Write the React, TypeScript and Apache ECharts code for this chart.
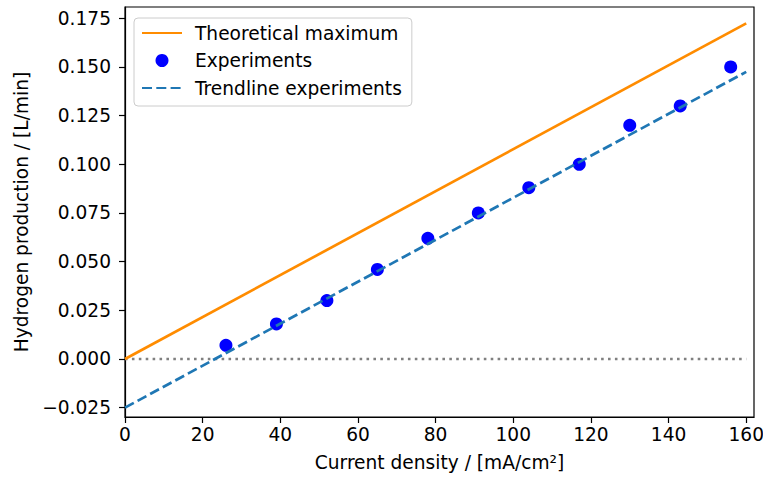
import React, { useEffect, useRef } from "react";
import * as echarts from "echarts";

const xExperiments = [26, 39, 52, 65, 78, 91, 104, 117, 130, 143, 156];
const yExperiments = [0.007, 0.018, 0.030, 0.046, 0.062, 0.075, 0.088, 0.100, 0.120, 0.130, 0.150];

const xTheoretical = [0, 160];
const yTheoretical = [0, 0.1724];

const xTrend = [0, 160];
const yTrend = [-0.025, 0.1475];

const xZero = [0, 160];
const yZero = [0, 0];

const xTicks = [0, 20, 40, 60, 80, 100, 120, 140, 160];
const yTicks = [-0.025, 0, 0.025, 0.05, 0.075, 0.1, 0.125, 0.15, 0.175];

const seriesNames = ["Theoretical maximum", "Experiments", "Trendline experiments"];

const FONT = "DejaVu Sans";
const FS = 18.6;

const zip = (xs: number[], ys: number[]) => xs.map((x, i) => [x, ys[i]]);

export default function App() {
  const ref = useRef<HTMLDivElement>(null);

  useEffect(() => {
    if (!ref.current) return;
    const chart = echarts.init(ref.current, undefined, { renderer: "svg" });
    const fmtY = (v: number) => (v < 0 ? "\u2212" + Math.abs(v).toFixed(3) : v.toFixed(3));
    chart.setOption({
      animation: false,
      grid: {
        left: 125,
        right: 9,
        top: 7,
        bottom: 63,
        containLabel: false,
        outerBoundsMode: "none",
        show: true,
        borderColor: "#000",
        borderWidth: 1.2,
        backgroundColor: "#fff",
      },
      legend: {
        orient: "vertical",
        left: 134,
        top: 18,
        padding: [5, 10, 8, 7],
        itemWidth: 40,
        itemHeight: 13,
        itemGap: 7.5,
        borderColor: "#cccccc",
        borderWidth: 1,
        borderRadius: 4,
        backgroundColor: "rgba(255,255,255,0.8)",
        textStyle: { fontSize: FS, fontFamily: FONT, color: "#000", lineHeight: 20, padding: [0, 0, 0, 8] },
        data: [
          { name: seriesNames[0], itemStyle: { opacity: 0 } },
          { name: seriesNames[1] },
          { name: seriesNames[2], itemStyle: { opacity: 0 } },
        ],
      },
      xAxis: {
        type: "value",
        min: 0,
        max: 162,
        name: "Current density / [mA/cm\u00B2]",
        nameLocation: "middle",
        nameGap: 36,
        nameTextStyle: { fontSize: FS, fontFamily: FONT, color: "#000" },
        axisLine: { show: true, onZero: false, lineStyle: { color: "#000", width: 1.2 } },
        axisTick: { show: true, inside: false, length: 6, lineStyle: { color: "#000", width: 1.2 }, customValues: xTicks },
        axisLabel: { fontSize: FS, fontFamily: FONT, color: "#000", margin: 8, customValues: xTicks },
        splitLine: { show: false },
      },
      yAxis: {
        type: "value",
        min: -0.0298,
        max: 0.1808,
        name: "Hydrogen production / [L/min]",
        nameLocation: "middle",
        nameGap: 87,
        nameTextStyle: { fontSize: FS, fontFamily: FONT, color: "#000" },
        axisLine: { show: true, onZero: false, lineStyle: { color: "#000", width: 1.2 } },
        axisTick: { show: true, inside: false, length: 6, lineStyle: { color: "#000", width: 1.2 }, customValues: yTicks },
        axisLabel: { fontSize: FS, fontFamily: FONT, color: "#000", margin: 14, customValues: yTicks, formatter: fmtY },
        splitLine: { show: false },
      },
      series: [
        {
          name: "Zero",
          type: "line",
          data: zip(xZero, yZero),
          symbol: "none",
          silent: true,
          lineStyle: { color: "#808080", width: 2.6, type: [2.6, 4.3], cap: "butt" },
        },
        {
          name: seriesNames[0],
          type: "line",
          data: zip(xTheoretical, yTheoretical),
          symbol: "none",
          silent: true,
          lineStyle: { color: "#ff8c00", width: 2.7 },
          itemStyle: { color: "#ff8c00" },
        },
        {
          name: seriesNames[1],
          type: "scatter",
          data: zip(xExperiments, yExperiments),
          symbol: "circle",
          symbolSize: 13,
          silent: true,
          itemStyle: { color: "#0000ff", opacity: 1 },
        },
        {
          name: seriesNames[2],
          type: "line",
          data: zip(xTrend, yTrend),
          symbol: "none",
          silent: true,
          lineStyle: { color: "#1f77b4", width: 2.7, type: [10, 4.3], cap: "butt" },
          itemStyle: { color: "#1f77b4" },
        },
      ],
    });
    return () => chart.dispose();
  }, []);

  return (
    <div
      ref={ref}
      style={{ position: "fixed", left: 0, top: 0, width: 763, height: 480, background: "#fff" }}
    />
  );
}
